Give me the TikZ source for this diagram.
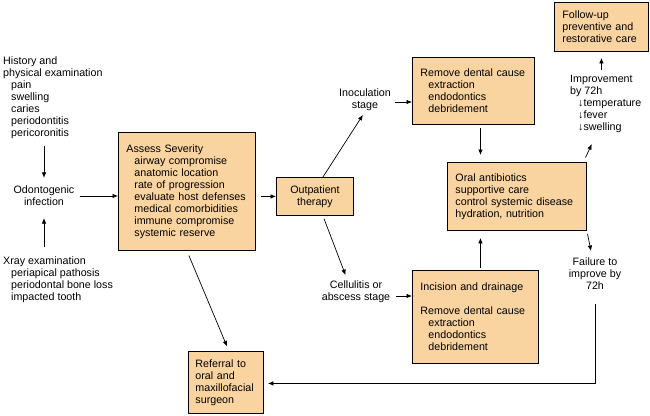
\documentclass[tikz,border=0pt]{standalone}
\usepackage{fontspec}
\setmainfont{Liberation Sans}
\usepackage{xcolor}
\usepackage{tikz}
\usetikzlibrary{positioning, arrows.meta}
\definecolor{peach}{RGB}{250,212,160}
\newcommand{\indt}{\hspace*{8pt}}

\begin{document}
\begin{tikzpicture}[
    x=1pt, y=-1pt,
    font=\fontsize{10.7}{12}\selectfont,
    txt/.style={align=left, inner sep=2pt},
    care/.style={draw, line width=0.9pt, fill=peach, align=left, inner xsep=8pt, inner ysep=0pt, anchor=north west},
    arr/.style={-{Latex[length=5.5pt,width=4.5pt]}, line width=0.7pt}
]
\useasboundingbox (0,0) rectangle (650,415);

% Findings on the left
\node[txt, anchor=west] (history) at (1,98) {History and\\physical examination\\\indt pain\\\indt swelling\\\indt caries\\\indt periodontitis\\\indt pericoronitis};
\node[txt, align=center] (odonto) at (44,196) {Odontogenic\\infection};
\node[txt, anchor=west] (xray) at (1,280) {Xray examination\\\indt periapical pathosis\\\indt periodontal bone loss\\\indt impacted tooth};

% Boxes
\node[care, text width=121pt, minimum height=118pt] (assess) at (118,132) {Assess Severity\\\indt airway compromise\\\indt anatomic location\\\indt rate of progression\\\indt evaluate host defenses\\\indt medical comorbidities\\\indt immune compromise\\\indt systemic reserve};
\node[care, align=center, text width=61pt, minimum height=38pt] (outpt) at (276,177) {Outpatient\\therapy};
\node[care, text width=106pt, minimum height=67pt] (remove) at (412,57) {Remove dental cause\\\indt extraction\\\indt endodontics\\\indt debridement};
\node[care, text width=123pt, minimum height=68pt] (oral) at (447,162) {Oral antibiotics\\supportive care\\control systemic disease\\hydration, nutrition};
\node[care, text width=78pt, minimum height=49pt] (follow) at (554,2) {Follow-up\\preventive and\\restorative care};
\node[care, text width=110pt, minimum height=93pt] (incision) at (412,270) {Incision and drainage\\[12pt]Remove dental cause\\\indt extraction\\\indt endodontics\\\indt debridement};
\node[care, inner xsep=7pt, text width=61pt, minimum height=62pt] (referral) at (188,351) {Referral to\\oral and\\maxillofacial\\surgeon};

% Stage and outcome labels
\node[txt, align=center] (inoc) at (365,100) {Inoculation\\stage};
\node[txt, align=center] (cell) at (356,292) {Cellulitis or\\abscess stage};
\node[txt, anchor=west] (improve) at (568,104) {Improvement\\by 72h\\\indt ↓temperature\\\indt ↓fever\\\indt ↓swelling};
\node[txt, align=center] (failure) at (595,274) {Failure to\\improve by\\72h};

% Arrows
\draw[arr, shorten <=5pt, shorten >=6pt] (history.south -| odonto.north) -- (odonto.north);
\draw[arr, shorten <=8pt, shorten >=10pt] (xray.north -| odonto.south) -- (odonto.south);
\draw[arr, shorten <=3pt] (odonto.east) -- (odonto.east -| assess.west);
\draw[arr, shorten <=5pt] (assess.east |- outpt.west) -- (outpt.west);
\draw[arr, shorten >=2pt] ([xshift=8pt]outpt.north) -- ([xshift=-1pt]inoc.south);
\draw[arr, shorten <=3pt, shorten >=4pt] ([xshift=8pt]outpt.south) -- ([xshift=-9pt]cell.north);
\draw[arr, shorten <=2pt] ([yshift=-2pt]inoc.east) -- ([yshift=-2pt]inoc.east -| remove.west);
\draw[arr, shorten <=4pt] ([yshift=-4pt]cell.east) -- ([yshift=-4pt]cell.east -| incision.west);
\draw[arr, shorten <=3pt, shorten >=7pt] ([xshift=7pt]remove.south) -- ([xshift=7pt]remove.south |- oral.north);
\draw[arr, shorten <=2pt, shorten >=7pt] ([xshift=5pt]incision.north) -- ([xshift=5pt]incision.north |- oral.south);
\draw[arr, shorten <=5pt, shorten >=10pt] ([xshift=-3.5pt]oral.north east) -- ([xshift=28pt]improve.south west);
\draw[arr, shorten <=3pt, shorten >=5pt] (oral.south east) -- ([xshift=-3pt]failure.north);
\draw[arr, shorten >=6pt] ([yshift=3pt]follow.south |- improve.north) -- (follow.south);
\draw[arr, shorten <=12pt, shorten >=4pt] (failure.south) |- ([yshift=-1pt]referral.east);
\draw[arr, shorten <=5pt, shorten >=5pt] (assess.south) -- ([xshift=3pt]referral.north);

\end{tikzpicture}
\end{document}
